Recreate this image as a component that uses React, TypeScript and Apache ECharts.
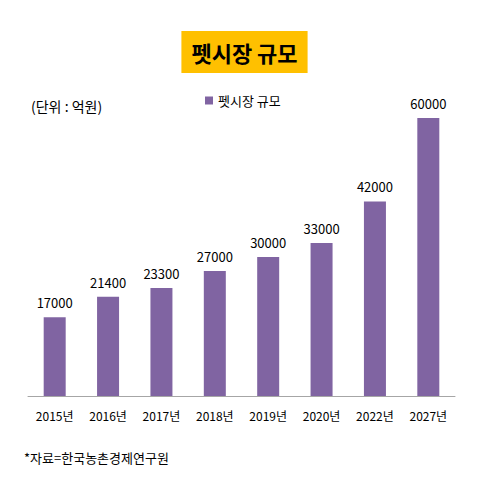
import React, { useEffect, useRef } from "react";
import * as echarts from "echarts";

const categories = ["2015년", "2016년", "2017년", "2018년", "2019년", "2020년", "2022년", "2027년"];
const values = [17000, 21400, 23300, 27000, 30000, 33000, 42000, 60000];
const seriesName = "펫시장 규모";
const titleText = "펫시장 규모";
const unitText = "(단위 : 억원)";
const sourceText = "*자료=한국농촌경제연구원";

const FONT = "'Noto Sans CJK KR', 'Noto Sans', sans-serif";

export default function App() {
  const ref = useRef<HTMLDivElement>(null);
  useEffect(() => {
    if (!ref.current) return;
    const chart = echarts.init(ref.current, null, { renderer: "svg" });
    chart.setOption({
      animation: false,
      backgroundColor: "#ffffff",
      title: {
        text: titleText,
        left: "center",
        top: 31,
        padding: [6, 10, 6, 10],
        backgroundColor: "#FFC000",
        textStyle: { fontFamily: FONT, fontSize: 22, fontWeight: "bold", color: "#000", lineHeight: 30 },
      },
      legend: {
        data: [seriesName],
        top: 89,
        left: 200,
        itemWidth: 8,
        itemHeight: 8,
        itemGap: 4,
        icon: "rect",
        textStyle: { fontFamily: FONT, fontSize: 13, color: "#000" },
      },
      graphic: [
        {
          type: "text",
          left: 31,
          top: 99,
          style: { text: unitText, font: `14px ${FONT}`, fill: "#000" },
        },
        {
          type: "text",
          left: 24,
          top: 451,
          style: { text: sourceText, font: `13px ${FONT}`, fill: "#000" },
        },
      ],
      grid: { left: 28, right: 34, top: 118, bottom: 85, containLabel: false },
      xAxis: {
        type: "category",
        data: categories,
        axisLine: { lineStyle: { color: "#a6a6a6", width: 1 } },
        axisTick: { show: false },
        axisLabel: { fontFamily: FONT, fontSize: 12, color: "#000", margin: 13, interval: 0 },
      },
      yAxis: {
        type: "value",
        min: 0,
        max: 60000,
        show: false,
        splitLine: { show: false },
      },
      series: [
        {
          name: seriesName,
          type: "bar",
          data: values,
          barWidth: 22,
          itemStyle: { color: "#8064A2" },
          label: {
            show: true,
            position: "top",
            distance: 8,
            fontFamily: FONT,
            fontSize: 13,
            color: "#000",
          },
        },
      ],
    });
    return () => chart.dispose();
  }, []);
  return <div ref={ref} style={{ width: 489, height: 481, position: "absolute", left: 0, top: 0 }} />;
}
